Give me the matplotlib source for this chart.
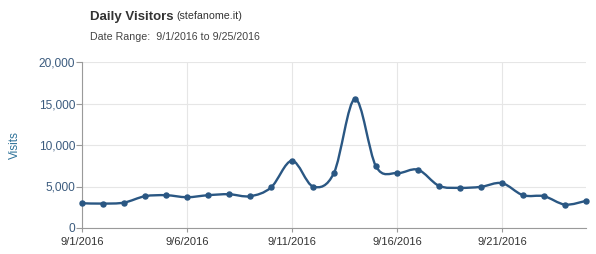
import numpy as np
import matplotlib
matplotlib.use("Agg")
import matplotlib.pyplot as plt
from matplotlib.path import Path
from matplotlib.patches import PathPatch
from matplotlib.ticker import FuncFormatter

plt.rcParams["font.family"] = ["Liberation Sans", "DejaVu Sans"]

# data: daily visits for 9/1/2016 .. 9/25/2016
DAYS = list(range(1, 26))
VISITS = [2980, 2940, 3060, 3830, 3950, 3710, 3950, 4070, 3830, 4880,
          8100, 5000, 6650, 15560, 7420, 6610, 7020, 5080, 4840, 4960,
          5400, 3950, 3830, 2820, 3270]
X_TICKS = [1, 6, 11, 16, 21]
X_LABELS = ["9/1/2016", "9/6/2016", "9/11/2016", "9/16/2016", "9/21/2016"]
Y_TICKS = [0, 5000, 10000, 15000, 20000]

LINE = "#2a5783"
GRID = "#e6e6e6"
AXIS = "#9a9a9a"
YTXT = "#3b5b7e"
XTXT = "#333333"


def smooth_path(x, y, k=1 / 6):
    # catmull-rom style cubic bezier through the data points
    x = np.asarray(x, float); y = np.asarray(y, float)
    n = len(x)
    verts = [(x[0], y[0])]
    codes = [Path.MOVETO]
    for i in range(n - 1):
        i0 = max(i - 1, 0); i3 = min(i + 2, n - 1)
        c1 = (x[i] + (x[i + 1] - x[i0]) * k, y[i] + (y[i + 1] - y[i0]) * k)
        c2 = (x[i + 1] - (x[i3] - x[i]) * k, y[i + 1] - (y[i3] - y[i]) * k)
        verts += [c1, c2, (x[i + 1], y[i + 1])]
        codes += [Path.CURVE4] * 3
    return Path(verts, codes)


fig = plt.figure(figsize=(5.96, 2.54), dpi=100)
ax = fig.add_axes([82 / 596, 26 / 254, 504 / 596, 166 / 254])

ax.add_patch(PathPatch(smooth_path(DAYS, VISITS), facecolor="none",
                       edgecolor=LINE, linewidth=1.7, zorder=3, clip_on=False))
ax.scatter(DAYS, VISITS, s=13, color=LINE, zorder=4, clip_on=False)

ax.set_xlim(1, 25)
ax.set_ylim(0, 20000)
ax.set_xticks(X_TICKS)
ax.set_xticklabels(X_LABELS)
ax.set_yticks(Y_TICKS)
ax.yaxis.set_major_formatter(FuncFormatter(lambda v, p: f"{int(v):,}"))
ax.grid(True, color=GRID, linewidth=0.8, zorder=0)
ax.set_axisbelow(True)

for s in ["top", "right"]:
    ax.spines[s].set_visible(False)
for s in ["left", "bottom"]:
    ax.spines[s].set_color(AXIS)
    ax.spines[s].set_linewidth(0.8)

ax.tick_params(axis="y", colors=AXIS, labelcolor=YTXT, labelsize=8.6, length=4, width=0.8, pad=1)
ax.tick_params(axis="x", colors=AXIS, labelcolor=XTXT, labelsize=8, length=3, width=0.8, pad=3.5)
ax.set_ylabel("Visits", color="#2e7299", fontsize=8.5, labelpad=13)

fig.text(90 / 596, 1 - 17 / 254, "Daily Visitors", fontsize=9.5, fontweight="bold",
         color="#333333", va="center", ha="left")
fig.text(176 / 596, 1 - 16 / 254, "(stefanome.it)", fontsize=7.7,
         color="#333333", va="center", ha="left")
fig.text(90 / 596, 1 - 37 / 254, "Date Range:  9/1/2016 to 9/25/2016", fontsize=7.7,
         color="#444444", va="center", ha="left")

fig.savefig("out.png", dpi=100)
